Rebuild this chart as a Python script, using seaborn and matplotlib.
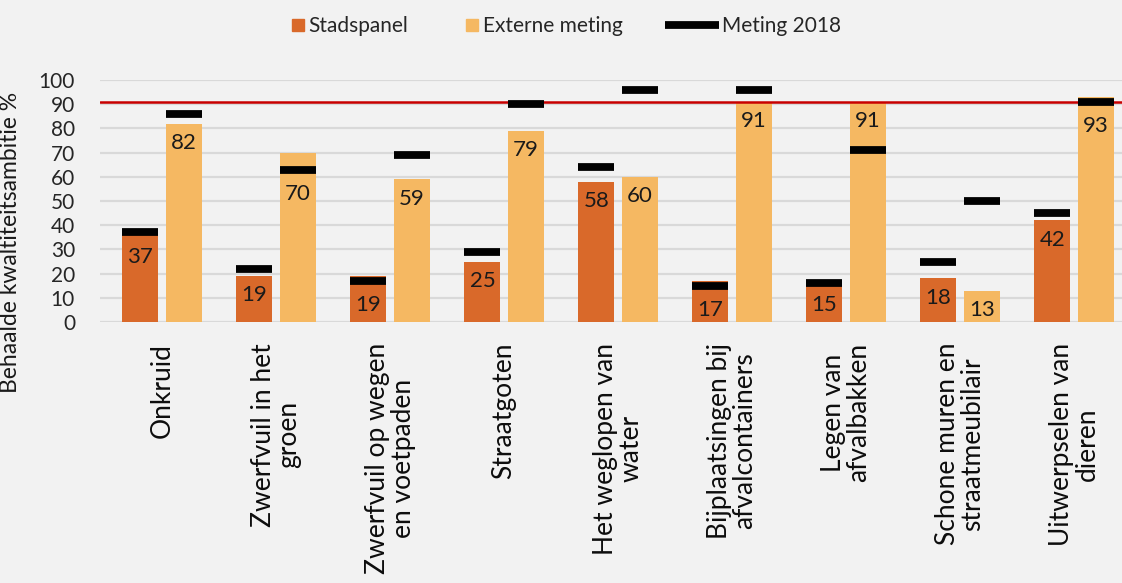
import numpy as np
import pandas as pd
import matplotlib.pyplot as plt
from matplotlib.lines import Line2D
import seaborn as sns

# Categories and values
categories = ['Onkruid', 'Zwerfvuil in het\ngroen', 'Zwerfvuil op wegen\nen voetpaden',
              'Straatgoten', 'Het weglopen van\nwater', 'Bijplaatsingen bij\nafvalcontainers',
              'Legen van\nafvalbakken', 'Schone muren en\nstraatmeubilair', 'Uitwerpselen van\ndieren']
stadspanel = [37, 19, 19, 25, 58, 17, 15, 18, 42]
externe_meting = [82, 70, 59, 79, 60, 91, 91, 13, 93]
meting2018_stadspanel = [37, 22, 17, 29, 64, 15, 16, 25, 45]
meting2018_externe = [86, 63, 69, 90, 96, 96, 71, 50, 91]
ambitie = 91
yticks = list(range(0, 101, 10))

dark = '#D9692A'
light = '#F5B862'
bg = '#F2F2F2'

df = pd.DataFrame({
    'categorie': categories * 2,
    'waarde': stadspanel + externe_meting,
    'reeks': ['Stadspanel'] * len(categories) + ['Externe meting'] * len(categories),
})

sns.set_style('white')
plt.rcParams['font.family'] = ['Lato', 'DejaVu Sans']

fig = plt.figure(figsize=(11.22, 5.83), dpi=100, facecolor=bg)
ax = fig.add_axes([100 / 1122, 1 - 322 / 583, 1 - 100 / 1122, 242 / 583])
ax.set_facecolor(bg)

sns.barplot(data=df, x='categorie', y='waarde', hue='reeks', palette=[dark, light],
            width=0.76, gap=0.17, saturation=1, errorbar=None, legend=False, ax=ax,
            linewidth=0, edgecolor='none', zorder=2)

# 2018 markers
x = np.arange(len(categories))
half = 0.158
for vals, off in [(meting2018_stadspanel, -0.19), (meting2018_externe, 0.19)]:
    ax.hlines(vals, x + off - half, x + off + half, colors='black', linewidth=5.6,
              zorder=4, clip_on=False)

# value labels inside the bars
for vals, marks, off in [(stadspanel, meting2018_stadspanel, -0.19),
                         (externe_meting, meting2018_externe, 0.19)]:
    for xi, v, m in zip(x, vals, marks):
        top = v
        if m <= v and v - m < 10:
            top = m - 2
        ax.text(xi + off, top - 8, str(v), ha='center', va='center', fontsize=16,
                color='#1a1a1a', zorder=5)

ax.axhline(ambitie, color='#C80000', linewidth=1.8, zorder=3)

ax.set_ylim(0, 100)
ax.set_xlim(-0.544, 8.42)
ax.set_yticks(yticks)
ax.set_yticklabels([str(t) for t in yticks], fontsize=15, color='#262626')
ax.grid(axis='y', color='#D9D9D9', linewidth=1.6, zorder=0)
ax.set_axisbelow(True)
for s in ax.spines.values():
    s.set_visible(False)
ax.tick_params(axis='both', length=0)
ax.tick_params(axis='y', pad=18)
ax.tick_params(axis='x', pad=15)
ax.set_xticks(x)
ax.set_xticklabels(categories, rotation=90, fontsize=19, linespacing=1.05,
                   ha='center', va='top', color='#0d0d0d')
ax.set_xlabel('')
ax.set_ylabel('Behaalde kwaltiteitsambitie %', fontsize=16.5, color='#1a1a1a')
ax.yaxis.set_label_coords(-79 / 1022, (322 - 242) / 242)

# legend, one entry per box to place the handles as in the original
leg_specs = [
    (Line2D([0], [0], marker='s', color='none', markerfacecolor=dark, markeredgecolor=dark,
            markersize=8.5), 'Stadspanel', 0.7, 291),
    (Line2D([0], [0], marker='s', color='none', markerfacecolor=light, markeredgecolor=light,
            markersize=8.5), 'Externe meting', 0.7, 465),
    (Line2D([0], [0], color='black', linewidth=5.6, solid_capstyle='butt'), 'Meting 2018', 2.6, 665),
]
for handle, label, hl, px in leg_specs:
    fig.legend([handle], [label], loc='center left', bbox_to_anchor=(px / 1122, 1 - 26 / 583),
               frameon=False, fontsize=15, handlelength=hl, handletextpad=0.15,
               borderpad=0, borderaxespad=0, labelcolor='#262626')

fig.savefig('out.png', dpi=100, facecolor=bg)
